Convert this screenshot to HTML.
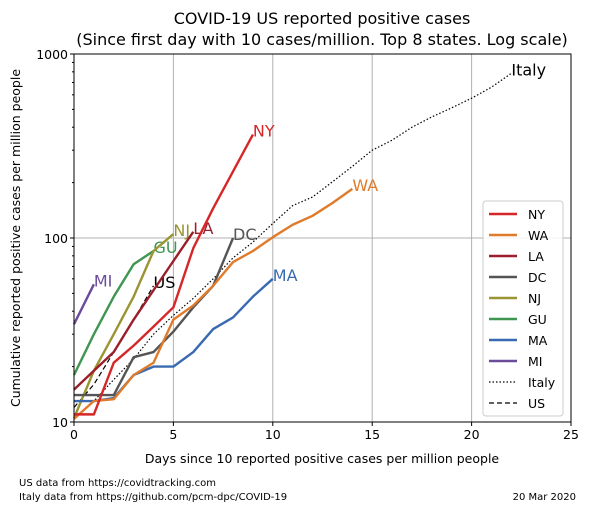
<!DOCTYPE html>
<html><head><meta charset="utf-8"><style>
body{margin:0;background:#fff}
svg{display:block;font-family:"DejaVu Sans","Liberation Sans",sans-serif}
</style></head><body>
<svg id="chart" width="589" height="512" viewBox="0 0 589 512">
<rect width="589" height="512" fill="#fff"/>
<text x="322" y="24" font-size="16" text-anchor="middle">COVID-19 US reported positive cases</text>
<text x="322" y="45" font-size="16" text-anchor="middle">(Since first day with 10 cases/million. Top 8 states. Log scale)</text>
<g id="grid"></g>
<g id="series"></g>
<rect x="74" y="54" width="497" height="368" fill="none" stroke="#000" stroke-width="1"/>
<g id="axes"></g>
<text x="322" y="463" font-size="12.5" text-anchor="middle">Days since 10 reported positive cases per million people</text>
<text transform="translate(20,238) rotate(-90)" font-size="12.5" text-anchor="middle">Cumulative reported positive cases per million people</text>
<text x="19" y="486" font-size="10">US data from https://covidtracking.com</text>
<text x="19" y="500" font-size="10">Italy data from https://github.com/pcm-dpc/COVID-19</text>
<text x="576" y="500" font-size="10" text-anchor="end">20 Mar 2020</text>
<g id="legend"></g>
</svg>
<script>
const seriesNames = ["NY","WA","LA","DC","NJ","GU","MA","MI","Italy","US"];
const seriesColors = ["#d62728","#e07b2b","#9b1f2a","#555555","#9b9433","#3e9651","#396ab1","#6b4c9a","#000","#000"];
const NY = [11,11,21,26,33,42,88,145,230,365];
const WA = [10.4,13,13.3,18,21,36,43,55,74,85,101,118,132,155,185];
const LA = [15,19,24,36,52,75,108];
const DC = [14,14,14,22.5,24,31,42,55,100];
const NJ = [10.5,19,30,48,85,105];
const GU = [18,30,48,72,85];
const MA = [13,13,13.5,18,20,20,24,32,37,48,60];
const MI = [34,56];
const Italy = [10.5,13,17,22,30,38,47,60,78,95,120,150,167,202,245,300,340,400,455,510,575,660,785];
const US = [12,16,24,36,55];
const xTicks = [0,5,10,15,20,25];
const yTicks = [10,100,1000];
const allData = [NY,WA,LA,DC,NJ,GU,MA,MI,Italy,US];

const NS="http://www.w3.org/2000/svg";
const X0=74,X1=571,Y0=422,Y1=54;
const xs=d=>X0+(X1-X0)*d/25;
const ys=v=>Y0-(Y0-Y1)*(Math.log10(v)-1)/2;
function mk(tag,attrs,parent){const e=document.createElementNS(NS,tag);for(const k in attrs)e.setAttribute(k,attrs[k]);parent.appendChild(e);return e;}
const grid=document.getElementById('grid'),axes=document.getElementById('axes'),ser=document.getElementById('series'),leg=document.getElementById('legend');
xTicks.forEach(t=>{
  if(t>0&&t<25){const g=mk('line',{x1:xs(t),x2:xs(t),y1:Y1,y2:Y0,stroke:'#b0b0b0','stroke-width':1},grid);
  
  }
  const tk=mk('line',{x1:xs(t),x2:xs(t),y1:Y0,y2:Y0+4,stroke:'#000'},axes);
  
  
  const tx=mk('text',{x:xs(t),y:Y0+17,'font-size':12.5,'text-anchor':'middle'},axes);tx.textContent=t;
  
  
});
yTicks.forEach(t=>{
  if(t===100){const g=mk('line',{x1:X0,x2:X1,y1:ys(t),y2:ys(t),stroke:'#b0b0b0'},grid);
  
  }
  const tk=mk('line',{x1:X0-4,x2:X0,y1:ys(t),y2:ys(t),stroke:'#000'},axes);
  
  
  const tx=mk('text',{x:X0-6,y:ys(t)+5,'font-size':12.5,'text-anchor':'end'},axes);tx.textContent=t;
  
  
  for(let m=2;m<10&&t<1000;m++){const mt=mk('line',{x1:X0-2,x2:X0,y1:ys(t*m),y2:ys(t*m),stroke:'#000'},axes);
  
  }
});
const order=[8,9,7,5,4,6,3,1,2,0];
order.forEach(i=>{
  const d=allData[i];const pts=d.map((v,k)=>xs(k)+','+ys(v)).join(' ');
  const style={points:pts,fill:'none',stroke:seriesColors[i],'stroke-width':i>=8?1.2:2.4,'stroke-linejoin':'round'};
  if(i===8)style['stroke-dasharray']='1.5,2';
  if(i===9)style['stroke-dasharray']='5,3';
  const p=mk('polyline',style,ser);
  
  
  const lx=xs(d.length-1),ly=ys(d[d.length-1]);
  const lb=mk('text',{x:lx,y:ly+2,'font-size':16,fill:seriesColors[i]},ser);lb.textContent=seriesNames[i];
  
  
});
const lbox=mk('rect',{x:483,y:201,width:80,height:215,rx:3,fill:'#fff','fill-opacity':0.85,stroke:'#ccc'},leg);


seriesNames.forEach((n,i)=>{
  const y=214+i*21;
  const st={x1:489,x2:517,y1:y,y2:y,stroke:seriesColors[i],'stroke-width':i>=8?1.2:2.4};
  if(i===8)st['stroke-dasharray']='1.5,2';
  if(i===9)st['stroke-dasharray']='5,3';
  const l=mk('line',st,leg);
  
  
  const t=mk('text',{x:528,y:y+5,'font-size':12.5},leg);t.textContent=n;
  
  
});
</script>
</body></html>
